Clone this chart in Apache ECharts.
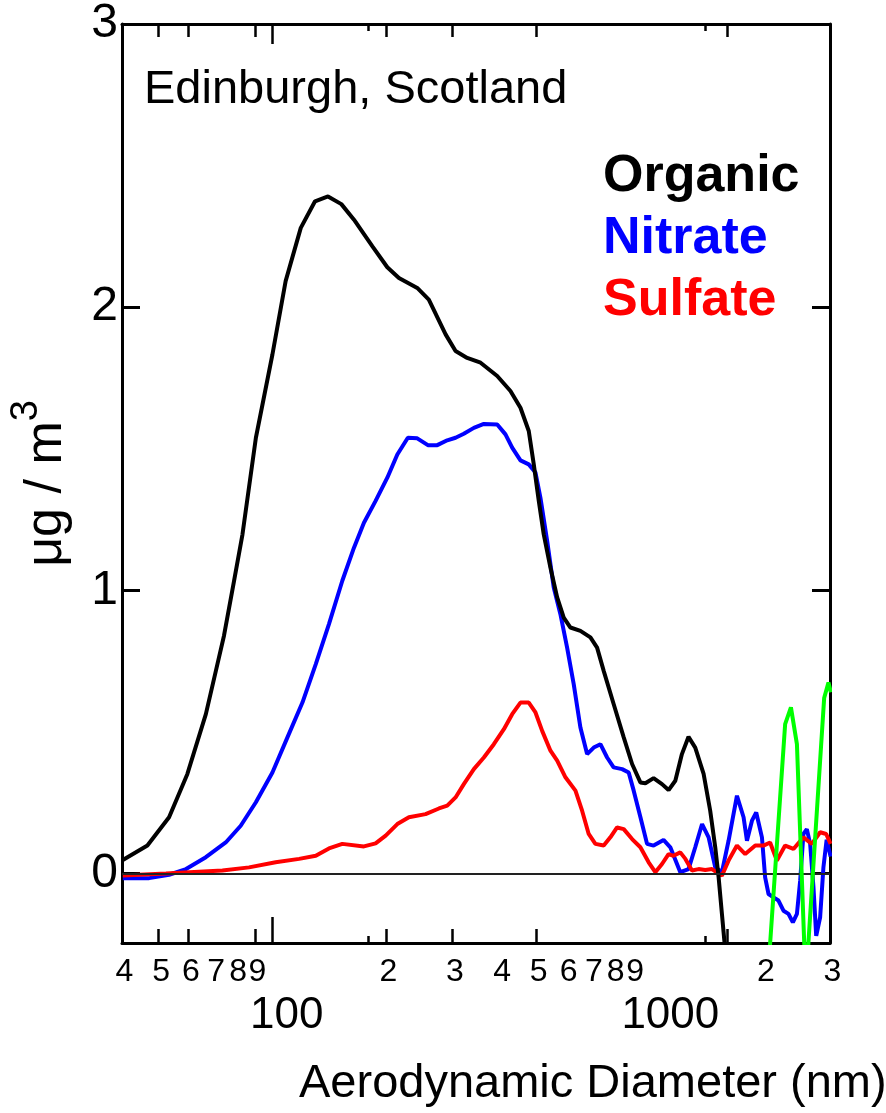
<!DOCTYPE html>
<html>
<head>
<meta charset="utf-8">
<script src="https://cdn.jsdelivr.net/npm/echarts@6/dist/echarts.min.js"></script>
<style>
html,body{margin:0;padding:0;background:#fff;}
#chart{width:886px;height:1113px;}
</style>
</head>
<body>
<div id="chart"></div>
<script>
// ---- data (diameter in nm, concentration in µg/m3) ----
const organicD = [40.0,46.7,53.3,59.6,66.7,70.9,74.5,79.2,83.4,90.5,100.1,108.5,119.0,129.8,140.5,152.4,164.6,184.2,201.7,216.5,242.1,259.8,287.8,305.8,328.3,356.2,394.3,427.4,454.3,477.9,492.7,508.0,523.6,545.5,568.3,591.5,616.2,654.8,696.0,724.9,754.7,801.9,852.8,897.4,943.9,973.0,1023,1077,1121,1168,1216,1266,1319,1388,1445,1490,1521,1552,1575,1613];
const organicV = [0.046,0.099,0.199,0.352,0.563,0.716,0.84,1.033,1.198,1.539,1.833,2.092,2.28,2.374,2.391,2.364,2.309,2.215,2.141,2.103,2.068,2.027,1.904,1.845,1.821,1.804,1.757,1.704,1.645,1.563,1.445,1.316,1.198,1.08,0.975,0.904,0.869,0.857,0.834,0.798,0.716,0.599,0.481,0.387,0.322,0.319,0.337,0.316,0.295,0.328,0.422,0.483,0.445,0.352,0.222,0.093,-0.013,-0.142,-0.236,-0.4];

const nitrateD = [40.2,47.2,53.3,59.1,66.7,75.3,82.5,90.5,100.1,109.7,120.2,130.4,141.3,153.3,164.6,174.9,187.8,201.7,214.4,228.6,242.1,258.3,273.5,290.7,305.8,321.6,341.9,363.4,394.3,414.6,431.9,454.3,477.9,497.9,513.2,534.6,556.5,579.6,603.8,628.6,654.8,682.1,710.2,739.7,770.6,801.9,844.4,879.0,906.2,943.9,983.1,1023,1087,1133,1204,1266,1319,1375,1431,1490,1552,1616,1701,1771,1808,1864,1913,1981,2020,2062,2126,2191,2259,2329,2392,2452,2501,2551,2605,2658,2712,2758,2825,2882,2939,3011];
const nitrateV = [-0.016,-0.016,-0.004,0.016,0.058,0.11,0.169,0.252,0.357,0.481,0.604,0.74,0.881,1.034,1.151,1.239,1.316,1.398,1.48,1.539,1.537,1.513,1.513,1.53,1.539,1.553,1.574,1.588,1.586,1.551,1.504,1.459,1.445,1.416,1.327,1.175,1.01,0.916,0.798,0.669,0.516,0.422,0.445,0.457,0.41,0.375,0.369,0.357,0.293,0.2,0.105,0.099,0.119,0.093,0.005,0.016,0.093,0.175,0.128,0.022,0.005,0.116,0.275,0.199,0.116,0.187,0.216,0.128,-0.013,-0.072,-0.084,-0.095,-0.131,-0.142,-0.172,-0.142,-0.025,0.14,0.157,0.105,-0.048,-0.22,-0.154,0.022,0.12,0.06];

const sulfateD = [40.2,52.3,73.8,86.8,102.1,117.8,130.4,141.3,153.3,174.9,187.8,199.7,214.4,230.1,254.7,276.3,290.7,305.8,321.6,341.9,363.4,386.2,410.6,431.9,454.3,477.9,497.9,518.6,545.5,568.3,597.7,635.3,661.6,688.7,717.4,754.7,786.0,818.8,852.8,897.4,943.9,992.7,1034,1077,1121,1155,1204,1242,1293,1346,1402,1461,1521,1552,1616,1701,1789,1902,2000,2082,2170,2282,2401,2551,2685,2825,2931,3011];
const sulfateV = [-0.007,0.0,0.011,0.022,0.04,0.052,0.063,0.089,0.105,0.096,0.107,0.134,0.175,0.199,0.21,0.23,0.24,0.269,0.316,0.369,0.41,0.457,0.51,0.563,0.604,0.604,0.569,0.504,0.434,0.399,0.34,0.293,0.222,0.14,0.105,0.099,0.128,0.163,0.157,0.122,0.093,0.04,0.005,0.034,0.069,0.063,0.075,0.052,0.011,0.016,0.013,0.016,0.0,-0.007,0.046,0.099,0.069,0.099,0.099,0.11,0.046,0.099,0.087,0.128,0.105,0.146,0.14,0.105];

const greenD = [2034,2082,2282,2364,2452,2563,2592,2631,2825,2895,2972,3016];
const greenV = [-0.45,-0.248,0.528,0.587,0.457,-0.24,-0.4,-0.24,0.40,0.62,0.675,0.64];

// axis ticks and labels
const xLabelValues = [40,50,60,70,80,90,100,200,300,400,500,600,700,800,900,1000,2000,3000];
const xTickValues = [50,60,90,200,300,500,1600];
const xLongTicks = [100];
const xShortTicks = [180,1400];
const yTickValues = [0,1,2,3];
const yRightTicks = [0,1,2];
const xMin = 40, xMax = 3000, yMin = -0.245, yMax = 3;

const FONT = 'Liberation Sans, Arial, Helvetica, sans-serif';
const L = v => Math.log10(v);
const zip = (a, b) => a.map((d, i) => [d, b[i]]);

function xLabel(v) {
  const d = Math.round(Math.pow(10, v));
  if (d === 100) return '{h|100}';
  if (d === 1000) return '{k|1000}';
  return '{d|' + String(d)[0] + '}';
}

function decoAxis(pos, ticks, len, opts) {
  return Object.assign({
    type: 'value', position: pos, min: L(xMin), max: L(xMax),
    axisLine: {show: false, onZero: false},
    axisTick: {show: true, inside: true, length: len, customValues: ticks.map(L),
               lineStyle: {color: '#000', width: 2.5}},
    axisLabel: {show: false},
    splitLine: {show: false}
  }, opts || {});
}

const chart = echarts.init(document.getElementById('chart'), null, {renderer: 'canvas'});
const option = {
  animation: false,
  backgroundColor: '#fff',
  textStyle: {fontFamily: FONT},
  title: [
    {text: 'Edinburgh, Scotland', left: 139, top: 62,
     textStyle: {fontFamily: FONT, fontSize: 47, fontWeight: 'normal', color: '#000'}},
    {text: 'Aerodynamic Diameter (nm)', left: 294, top: 1056,
     textStyle: {fontFamily: FONT, fontSize: 47, fontWeight: 'normal', color: '#000'}}
  ],
  legend: {
    orient: 'vertical', left: 593, top: 146, itemGap: 10,
    itemWidth: 0, itemHeight: 0, icon: 'rect', selectedMode: false,
    textStyle: {fontFamily: FONT, fontSize: 52, fontWeight: 'bold'},
    data: [
      {name: 'Organic', textStyle: {color: '#000000'}},
      {name: 'Nitrate', textStyle: {color: '#0000ff'}},
      {name: 'Sulfate', textStyle: {color: '#ff0000'}}
    ]
  },
  grid: {left: 121, right: 56, top: 22, bottom: 170},
  xAxis: [
    {type: 'log', logBase: 10, min: xMin, max: xMax, show: false, position: 'bottom',
     axisLine: {onZero: false}},
    decoAxis('bottom', xTickValues, 14, {
      axisLine: {show: true, onZero: false, lineStyle: {color: '#000', width: 3}},
      axisLabel: {show: true, customValues: xLabelValues.map(L), formatter: xLabel, margin: 13,
        color: '#000', fontFamily: FONT,
        rich: {
          d: {fontSize: 32, fontFamily: FONT, color: '#000', padding: [0, 0, 0, 5]},
          h: {fontSize: 44, fontFamily: FONT, color: '#000', padding: [38, 0, 0, 29]},
          k: {fontSize: 44, fontFamily: FONT, color: '#000', padding: [38, 0, 0, 41]}
        }}
    }),
    decoAxis('bottom', xLongTicks, 26),
    decoAxis('bottom', xShortTicks, 7),
    decoAxis('top', xTickValues, 13, {
      axisLine: {show: true, onZero: false, lineStyle: {color: '#000', width: 3}}
    }),
    decoAxis('top', xLongTicks, 20),
    decoAxis('top', xShortTicks, 7)
  ],
  yAxis: [
    {type: 'value', position: 'left', min: yMin, max: yMax,
     axisLine: {show: true, onZero: false, lineStyle: {color: '#000', width: 3}},
     axisTick: {show: true, inside: true, length: 18, customValues: yTickValues,
                lineStyle: {color: '#000', width: 3}},
     axisLabel: {customValues: yTickValues, fontSize: 48, margin: 4, color: '#000', fontFamily: FONT},
     splitLine: {show: false},
     name: '{a|\u03bcg / m}{s|3}', nameLocation: 'middle', nameRotate: 90, nameGap: 36,
     nameTextStyle: {color: '#000', fontFamily: FONT,
       rich: {a: {fontSize: 52, fontFamily: FONT, color: '#000'},
              s: {fontSize: 38, fontFamily: FONT, color: '#000', padding: [0, 0, 40, 0]}}}
    },
    {type: 'value', position: 'right', min: yMin, max: yMax,
     axisLine: {show: true, onZero: false, lineStyle: {color: '#000', width: 3}},
     axisTick: {show: true, inside: true, length: 18, customValues: yRightTicks,
                lineStyle: {color: '#000', width: 3}},
     axisLabel: {show: false}, splitLine: {show: false}}
  ],
  series: [
    {name: 'Nitrate', type: 'line', xAxisIndex: 0, yAxisIndex: 0, z: 2,
     data: zip(nitrateD, nitrateV), symbol: 'none',
     lineStyle: {color: '#0000ff', width: 4}, itemStyle: {color: '#0000ff'},
     markLine: {silent: true, symbol: ['none', 'none'], label: {show: false},
       lineStyle: {color: '#222', width: 2, type: 'solid'}, data: [{yAxis: 0}]}},
    {name: 'Sulfate', type: 'line', xAxisIndex: 0, yAxisIndex: 0, z: 3,
     data: zip(sulfateD, sulfateV), symbol: 'none',
     lineStyle: {color: '#ff0000', width: 4}, itemStyle: {color: '#ff0000'}},
    {name: 'Organic', type: 'line', xAxisIndex: 0, yAxisIndex: 0, z: 4,
     data: zip(organicD, organicV), symbol: 'none',
     lineStyle: {color: '#000000', width: 4}, itemStyle: {color: '#000000'}},
    {name: 'Unlabelled', type: 'line', xAxisIndex: 0, yAxisIndex: 0, z: 5,
     data: zip(greenD, greenV), symbol: 'none',
     lineStyle: {color: '#00ff00', width: 4}, itemStyle: {color: '#00ff00'}}
  ]
};
chart.setOption(option);
</script>
</body>
</html>
